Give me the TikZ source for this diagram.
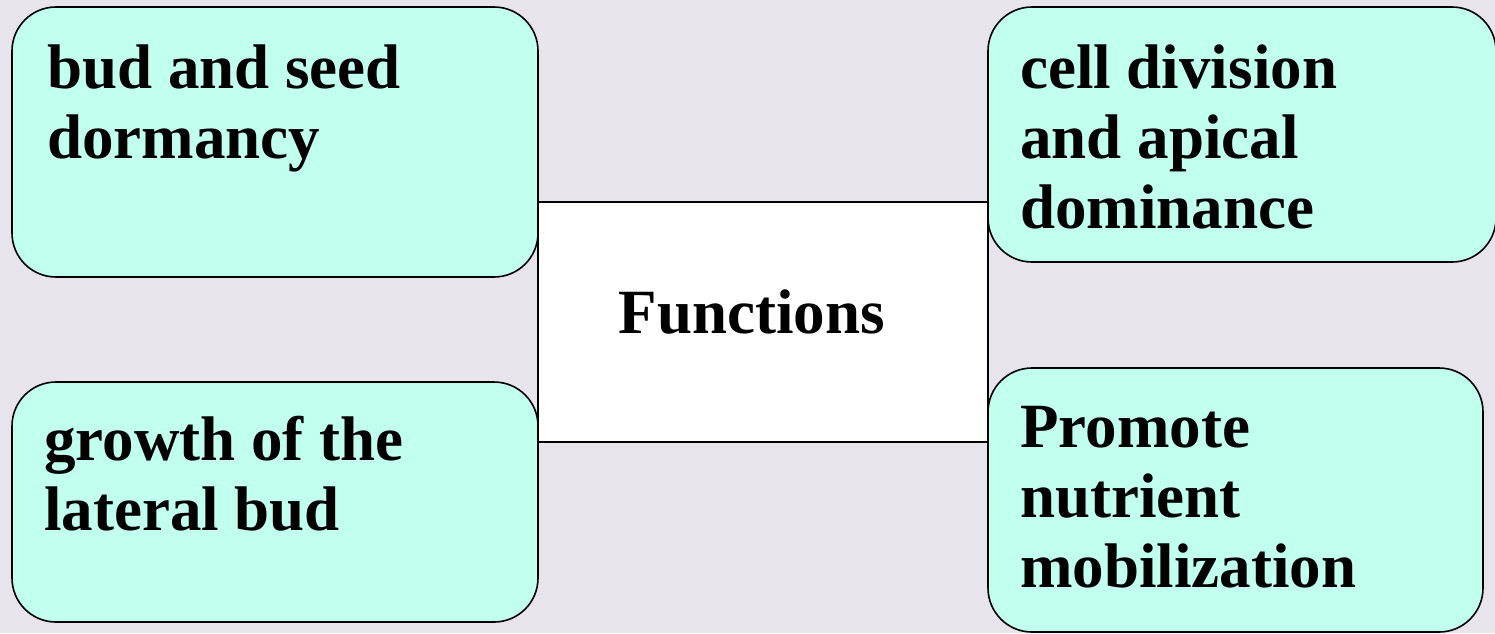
\documentclass[tikz,border=0pt]{standalone}
\usepackage{fontspec}
\setmainfont{Liberation Serif}
\definecolor{bgc}{RGB}{232,228,236}
\definecolor{boxc}{RGB}{193,255,238}
\begin{document}
\begin{tikzpicture}[x=1pt,y=-1pt,
  fbox/.style={draw=black, line width=1.6pt, fill=boxc, rounded corners=44pt, inner sep=0pt},
  cbox/.style={draw=black, line width=1.2pt, fill=white, inner sep=0pt},
  lbl/.style={anchor=base west, inner sep=0pt, align=left, font=\fontsize{63}{70}\selectfont\bfseries}]
\fill[bgc] (0,0) rectangle (1495,633);
\useasboundingbox (0,0) rectangle (1495,633);
\node[cbox, minimum width=450pt, minimum height=240pt] (center) at (763,322) {};
\node[anchor=base, inner sep=0pt, font=\fontsize{63}{70}\selectfont\bfseries] (ftxt) at (752,333) {Functions};
\node[fbox, minimum width=526pt, minimum height=270pt] (tl) at (275,142) {};
\node[fbox, minimum width=526pt, minimum height=240pt] (bl) at (275,502) {};
\node[fbox, minimum width=508pt, minimum height=255pt] (tr) at (1242,134.5) {};
\node[fbox, minimum width=495pt, minimum height=264pt] (br) at (1235.5,500) {};
\node[lbl] (tltxt) at (47,158) {bud and seed\\dormancy};
\node[lbl] (bltxt) at (44,530) {growth of the\\lateral bud};
\node[lbl] (trtxt) at (1020,228) {cell division\\and apical\\dominance};
\node[lbl] (brtxt) at (1020,587) {Promote\\nutrient\\mobilization};
\end{tikzpicture}
\end{document}
